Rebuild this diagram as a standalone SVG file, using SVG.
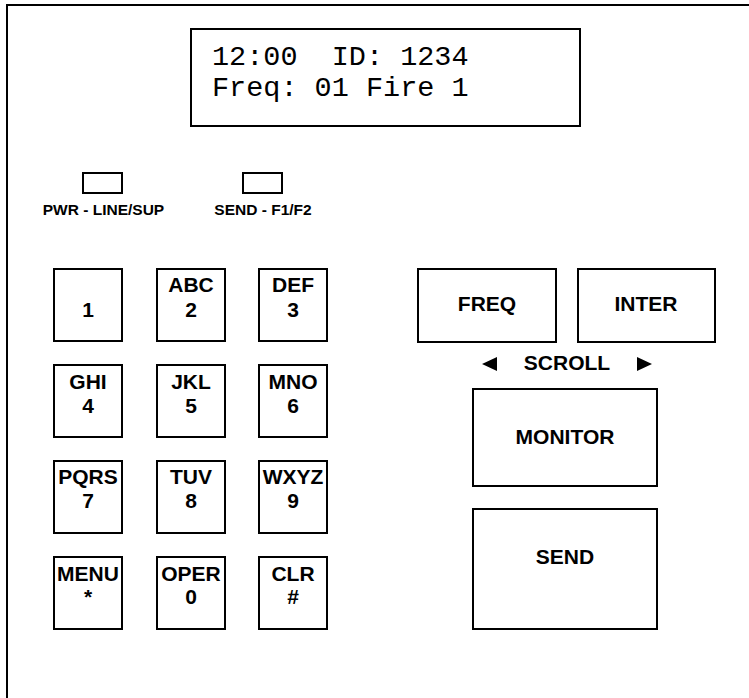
<svg xmlns="http://www.w3.org/2000/svg" width="749" height="698" viewBox="0 0 749 698">
<style>
.box{fill:#fff;stroke:#000;stroke-width:2}
.led{fill:#fff;stroke:#000;stroke-width:2}
.k{font-family:"Liberation Sans",Arial,sans-serif;font-weight:bold;font-size:21px;text-anchor:middle;fill:#000}
.lbl{font-family:"Liberation Sans",Arial,sans-serif;font-weight:bold;font-size:15.5px;text-anchor:middle;fill:#000}
.lcd{font-family:"Courier New","Liberation Mono",monospace;font-size:28.5px;fill:#000}
</style>
<rect width="749" height="698" fill="#fff"/>
<path d="M7,698 V5 H749" fill="none" stroke="#000" stroke-width="2"/>
<g id="lcd">
<rect class="box" x="191" y="29" width="389" height="97"/>
<text class="lcd" x="212" y="65" xml:space="preserve">12:00  ID: 1234</text>
<text class="lcd" x="212" y="96" xml:space="preserve">Freq: 01 Fire 1</text>
</g>
<g id="led-pwr">
<rect class="led" x="83" y="173" width="39" height="20"/>
<text class="lbl" x="103.5" y="215">PWR - LINE/SUP</text>
</g>
<g id="led-send">
<rect class="led" x="243" y="173" width="39" height="20"/>
<text class="lbl" x="263" y="215">SEND - F1/F2</text>
</g>
<g id="key-1"><rect class="box" x="54" y="269" width="68" height="72"/><text class="k" x="88" y="317">1</text></g>
<g id="key-2"><rect class="box" x="157" y="269" width="68" height="72"/><text class="k" x="191" y="292">ABC</text><text class="k" x="191" y="317">2</text></g>
<g id="key-3"><rect class="box" x="259" y="269" width="68" height="72"/><text class="k" x="293" y="292">DEF</text><text class="k" x="293" y="317">3</text></g>
<g id="key-4"><rect class="box" x="54" y="365" width="68" height="72"/><text class="k" x="88" y="389">GHI</text><text class="k" x="88" y="413">4</text></g>
<g id="key-5"><rect class="box" x="157" y="365" width="68" height="72"/><text class="k" x="191" y="389">JKL</text><text class="k" x="191" y="413">5</text></g>
<g id="key-6"><rect class="box" x="259" y="365" width="68" height="72"/><text class="k" x="293" y="389">MNO</text><text class="k" x="293" y="413">6</text></g>
<g id="key-7"><rect class="box" x="54" y="461" width="68" height="72"/><text class="k" x="88" y="484">PQRS</text><text class="k" x="88" y="508">7</text></g>
<g id="key-8"><rect class="box" x="157" y="461" width="68" height="72"/><text class="k" x="191" y="484">TUV</text><text class="k" x="191" y="508">8</text></g>
<g id="key-9"><rect class="box" x="259" y="461" width="68" height="72"/><text class="k" x="293" y="484">WXYZ</text><text class="k" x="293" y="508">9</text></g>
<g id="key-menu"><rect class="box" x="54" y="557" width="68" height="72"/><text class="k" x="88" y="581">MENU</text><text class="k" x="88" y="604">*</text></g>
<g id="key-oper"><rect class="box" x="157" y="557" width="68" height="72"/><text class="k" x="191" y="581">OPER</text><text class="k" x="191" y="604">0</text></g>
<g id="key-clr"><rect class="box" x="259" y="557" width="68" height="72"/><text class="k" x="293" y="581">CLR</text><text class="k" x="293" y="604">#</text></g>
<g id="key-freq"><rect class="box" x="418" y="269" width="138" height="73"/><text class="k" x="487" y="311">FREQ</text></g>
<g id="key-inter"><rect class="box" x="578" y="269" width="137" height="73"/><text class="k" x="646" y="311">INTER</text></g>
<g id="scroll">
<polygon points="482,364 497,357 497,371" fill="#000"/>
<text class="k" x="567" y="370">SCROLL</text>
<polygon points="652,364 637,357 637,371" fill="#000"/>
</g>
<g id="key-monitor"><rect class="box" x="473" y="389" width="184" height="97"/><text class="k" x="565" y="444">MONITOR</text></g>
<g id="key-send"><rect class="box" x="473" y="509" width="184" height="120"/><text class="k" x="565" y="564">SEND</text></g>
<g id="connectors"/>
</svg>
